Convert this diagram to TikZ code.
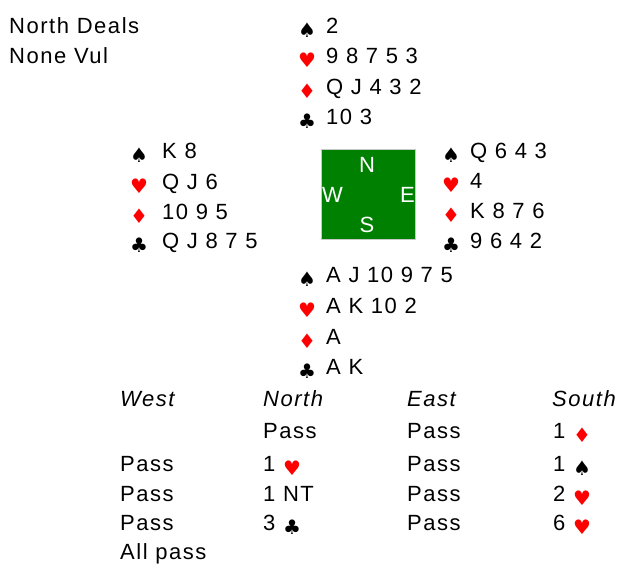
\documentclass[tikz,border=0pt]{standalone}
\usepackage{fontspec}
\setmainfont{Liberation Sans}[LetterSpace=7]
\newfontfamily\suitfont{DejaVu Sans}
\definecolor{suitred}{RGB}{255,0,0}
\definecolor{tablegreen}{RGB}{0,128,0}
\definecolor{boxedge}{RGB}{200,200,200}
\newcommand\SpS{{\suitfont\fontsize{20}{20}\selectfont\raisebox{-4pt}{♠}}}
\newcommand\HeS{{\suitfont\fontsize{20}{20}\selectfont\color{suitred}\raisebox{-4pt}{♥}}}
\newcommand\DiS{{\suitfont\fontsize{20}{20}\selectfont\color{suitred}\raisebox{-4pt}{♦}}}
\newcommand\ClS{{\suitfont\fontsize{20}{20}\selectfont\raisebox{-4pt}{♣}}}
\tikzset{
  txt/.style={anchor=base west, inner sep=0pt, font=\fontsize{22}{22}\selectfont},
  itxt/.style={txt, font=\fontsize{22}{22}\selectfont\itshape},
  wtxt/.style={inner sep=0pt, text=white, font=\fontsize{22}{22}\selectfont},
  sym/.style={anchor=base west, inner sep=0pt},
}
\begin{document}
\begin{tikzpicture}[x=1pt,y=-1pt]
\useasboundingbox (0,0) rectangle (619,565);
% header
\node[txt] (deal) at (9,33) {North Deals};
\node[txt] (vul) at (9,63) {None Vul};
% North
\node[sym] (ns) at (298,33) {\SpS};  \node[txt] (nst) at (326,33) {2};
\node[sym] (nh) at (298,63) {\HeS};  \node[txt] (nht) at (326,63) {9 8 7 5 3};
\node[sym] (nd) at (298,94) {\DiS};  \node[txt] (ndt) at (326,94) {Q J 4 3 2};
\node[sym] (nc) at (298,124) {\ClS}; \node[txt] (nct) at (326,124) {10 3};
% West
\node[sym] (ws) at (130,158) {\SpS};  \node[txt] (wst) at (162,158) {K 8};
\node[sym] (wh) at (130,189) {\HeS};  \node[txt] (wht) at (162,189) {Q J 6};
\node[sym] (wd) at (130,219) {\DiS};  \node[txt] (wdt) at (162,219) {10 9 5};
\node[sym] (wc) at (130,248) {\ClS};  \node[txt] (wct) at (162,248) {Q J 8 7 5};
% East
\node[sym] (es) at (442,158) {\SpS};  \node[txt] (est) at (470,158) {Q 6 4 3};
\node[sym] (eh) at (442,188) {\HeS};  \node[txt] (eht) at (470,188) {4};
\node[sym] (ed) at (442,218) {\DiS};  \node[txt] (edt) at (470,218) {K 8 7 6};
\node[sym] (ec) at (442,248) {\ClS};  \node[txt] (ect) at (470,248) {9 6 4 2};
% South
\node[sym] (ss) at (298,282) {\SpS};  \node[txt] (sst) at (326,282) {A J 10 9 7 5};
\node[sym] (sh) at (298,313) {\HeS};  \node[txt] (sht) at (326,313) {A K 10 2};
\node[sym] (sd) at (298,344) {\DiS};  \node[txt] (sdt) at (326,344) {A};
\node[sym] (sc) at (298,374) {\ClS};  \node[txt] (sct) at (326,374) {A K};
% compass
\node[draw=boxedge, line width=1pt, fill=tablegreen, minimum width=94pt, minimum height=90pt, anchor=north west, inner sep=0pt] (table) at (321,149) {};
\node[wtxt, anchor=base] (cn) at (367,172) {N};
\node[wtxt, anchor=base west] (cw) at (322,202) {W};
\node[wtxt, anchor=base west] (ce) at (400,202) {E};
\node[wtxt, anchor=base] (cs) at (367,232) {S};
% auction
\node[itxt] (hw) at (120,406) {West};
\node[itxt] (hn) at (263,406) {North};
\node[itxt] (he) at (407,406) {East};
\node[itxt] (hs) at (552,406) {South};
\node[txt] (a12) at (263,438) {Pass};
\node[txt] (a13) at (407,438) {Pass};
\node[txt] (a14) at (553,438) {1 \DiS};
\node[txt] (a21) at (120,471) {Pass};
\node[txt] (a22) at (263,471) {1 \HeS};
\node[txt] (a23) at (407,471) {Pass};
\node[txt] (a24) at (553,471) {1 \SpS};
\node[txt] (a31) at (120,501) {Pass};
\node[txt] (a32) at (263,501) {1 NT};
\node[txt] (a33) at (407,501) {Pass};
\node[txt] (a34) at (553,501) {2 \HeS};
\node[txt] (a41) at (120,530) {Pass};
\node[txt] (a42) at (263,530) {3 \ClS};
\node[txt] (a43) at (407,530) {Pass};
\node[txt] (a44) at (553,530) {6 \HeS};
\node[txt] (a51) at (120,559) {All pass};
\end{tikzpicture}
\end{document}
